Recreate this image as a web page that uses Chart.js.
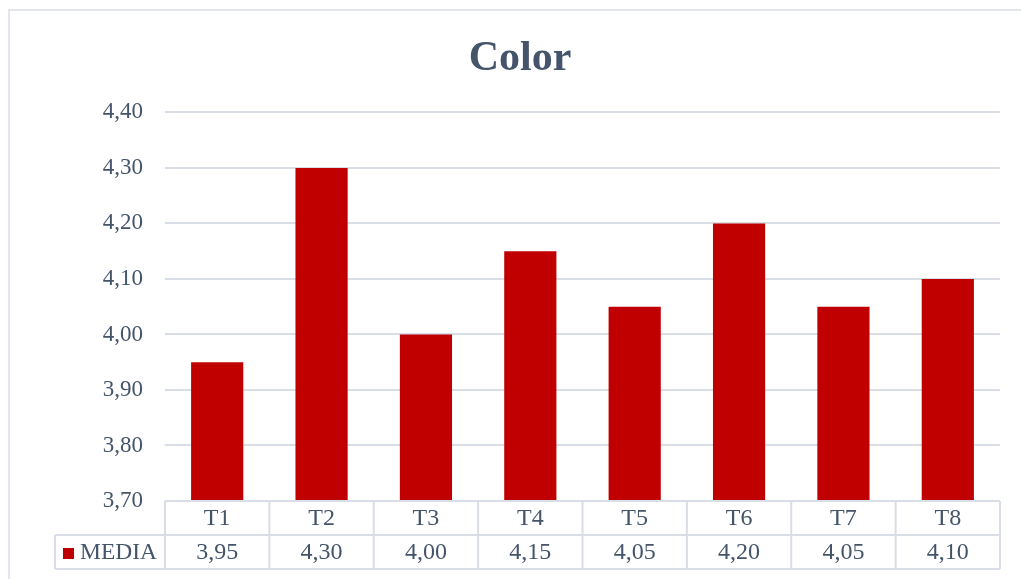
<!DOCTYPE html>
<html>
<head>
<meta charset="utf-8">
<script src="https://cdn.jsdelivr.net/npm/chart.js@4"></script>
<style>
  html, body { margin: 0; padding: 0; background: #ffffff; }
  #wrap { width: 1021px; height: 579px; position: relative; }
</style>
</head>
<body>
<div id="wrap"><canvas id="c" width="1021" height="579"></canvas></div>
<script>
const categories = ['T1', 'T2', 'T3', 'T4', 'T5', 'T6', 'T7', 'T8'];
const seriesName = 'MEDIA';
const mediaValues = [3.95, 4.30, 4.00, 4.15, 4.05, 4.20, 4.05, 4.10];
const yMin = 3.70, yMax = 4.40, yStep = 0.10;

const TEXT = '#44546A';
const LINE = '#D9DEE6';
const BAR = '#C00000';
const FONT = '"Liberation Serif", "Times New Roman", serif';
const fmt = v => Number(v).toFixed(2).replace('.', ',');

const frame = {
  id: 'frame',
  beforeDraw(chart) {
    const ctx = chart.ctx;
    ctx.save();
    ctx.fillStyle = '#ffffff';
    ctx.fillRect(0, 0, chart.width, chart.height);
    ctx.strokeStyle = LINE;
    ctx.lineWidth = 1.5;
    ctx.strokeRect(9, 10, chart.width + 50, chart.height + 50);
    ctx.restore();
  }
};

const dataTable = {
  id: 'dataTable',
  afterDraw(chart) {
    const ctx = chart.ctx;
    const xs = chart.scales.x;
    const area = chart.chartArea;
    const n = categories.length;
    const cw = (area.right - area.left) / n;
    const rowH = 34;
    const top = area.bottom;
    const mid = top + rowH;
    const bot = top + 2 * rowH;
    const leftCol = 55;
    ctx.save();
    ctx.strokeStyle = LINE;
    ctx.lineWidth = 2;
    ctx.beginPath();
    ctx.moveTo(area.left, top); ctx.lineTo(area.right, top);
    ctx.moveTo(leftCol, mid); ctx.lineTo(area.right, mid);
    ctx.moveTo(leftCol, bot); ctx.lineTo(area.right, bot);
    ctx.moveTo(leftCol, mid); ctx.lineTo(leftCol, bot);
    for (let i = 0; i <= n; i++) {
      const x = area.left + i * cw;
      ctx.moveTo(x, top); ctx.lineTo(x, bot);
    }
    ctx.stroke();
    ctx.fillStyle = TEXT;
    ctx.font = '24px ' + FONT;
    ctx.textAlign = 'center';
    ctx.textBaseline = 'middle';
    categories.forEach((c, i) => {
      const x = xs.getPixelForValue(i);
      ctx.fillText(c, x, top + rowH / 2 + 1);
      ctx.fillText(fmt(mediaValues[i]), x, mid + rowH / 2 + 1);
    });
    ctx.fillStyle = BAR;
    ctx.fillRect(63, mid + 13, 11, 11);
    ctx.fillStyle = TEXT;
    ctx.font = '23.5px ' + FONT;
    ctx.textAlign = 'left';
    ctx.fillText(seriesName, 80, mid + rowH / 2 + 1);
    ctx.restore();
  }
};

new Chart(document.getElementById('c'), {
  type: 'bar',
  data: {
    labels: categories,
    datasets: [{
      label: seriesName,
      data: mediaValues,
      backgroundColor: BAR,
      borderWidth: 0,
      categoryPercentage: 1.0,
      barPercentage: 0.5
    }]
  },
  options: {
    responsive: false,
    animation: false,
    layout: { padding: { left: 40, right: 21, top: 0, bottom: 78 } },
    plugins: {
      legend: { display: false },
      tooltip: { enabled: false },
      title: {
        display: true,
        text: 'Color',
        color: TEXT,
        font: { family: FONT, size: 42, weight: 'bold', lineHeight: 1.2 },
        padding: { top: 34, bottom: 28 }
      }
    },
    scales: {
      x: {
        display: false
      },
      y: {
        min: yMin,
        max: yMax,
        afterFit(scale) { scale.width = 125; },
        border: { display: false },
        grid: { color: LINE, lineWidth: 2, drawTicks: false },
        ticks: {
          stepSize: yStep,
          padding: 22,
          color: TEXT,
          font: { family: FONT, size: 23 },
          callback: v => fmt(v)
        }
      }
    }
  },
  plugins: [frame, dataTable]
});
</script>
</body>
</html>
